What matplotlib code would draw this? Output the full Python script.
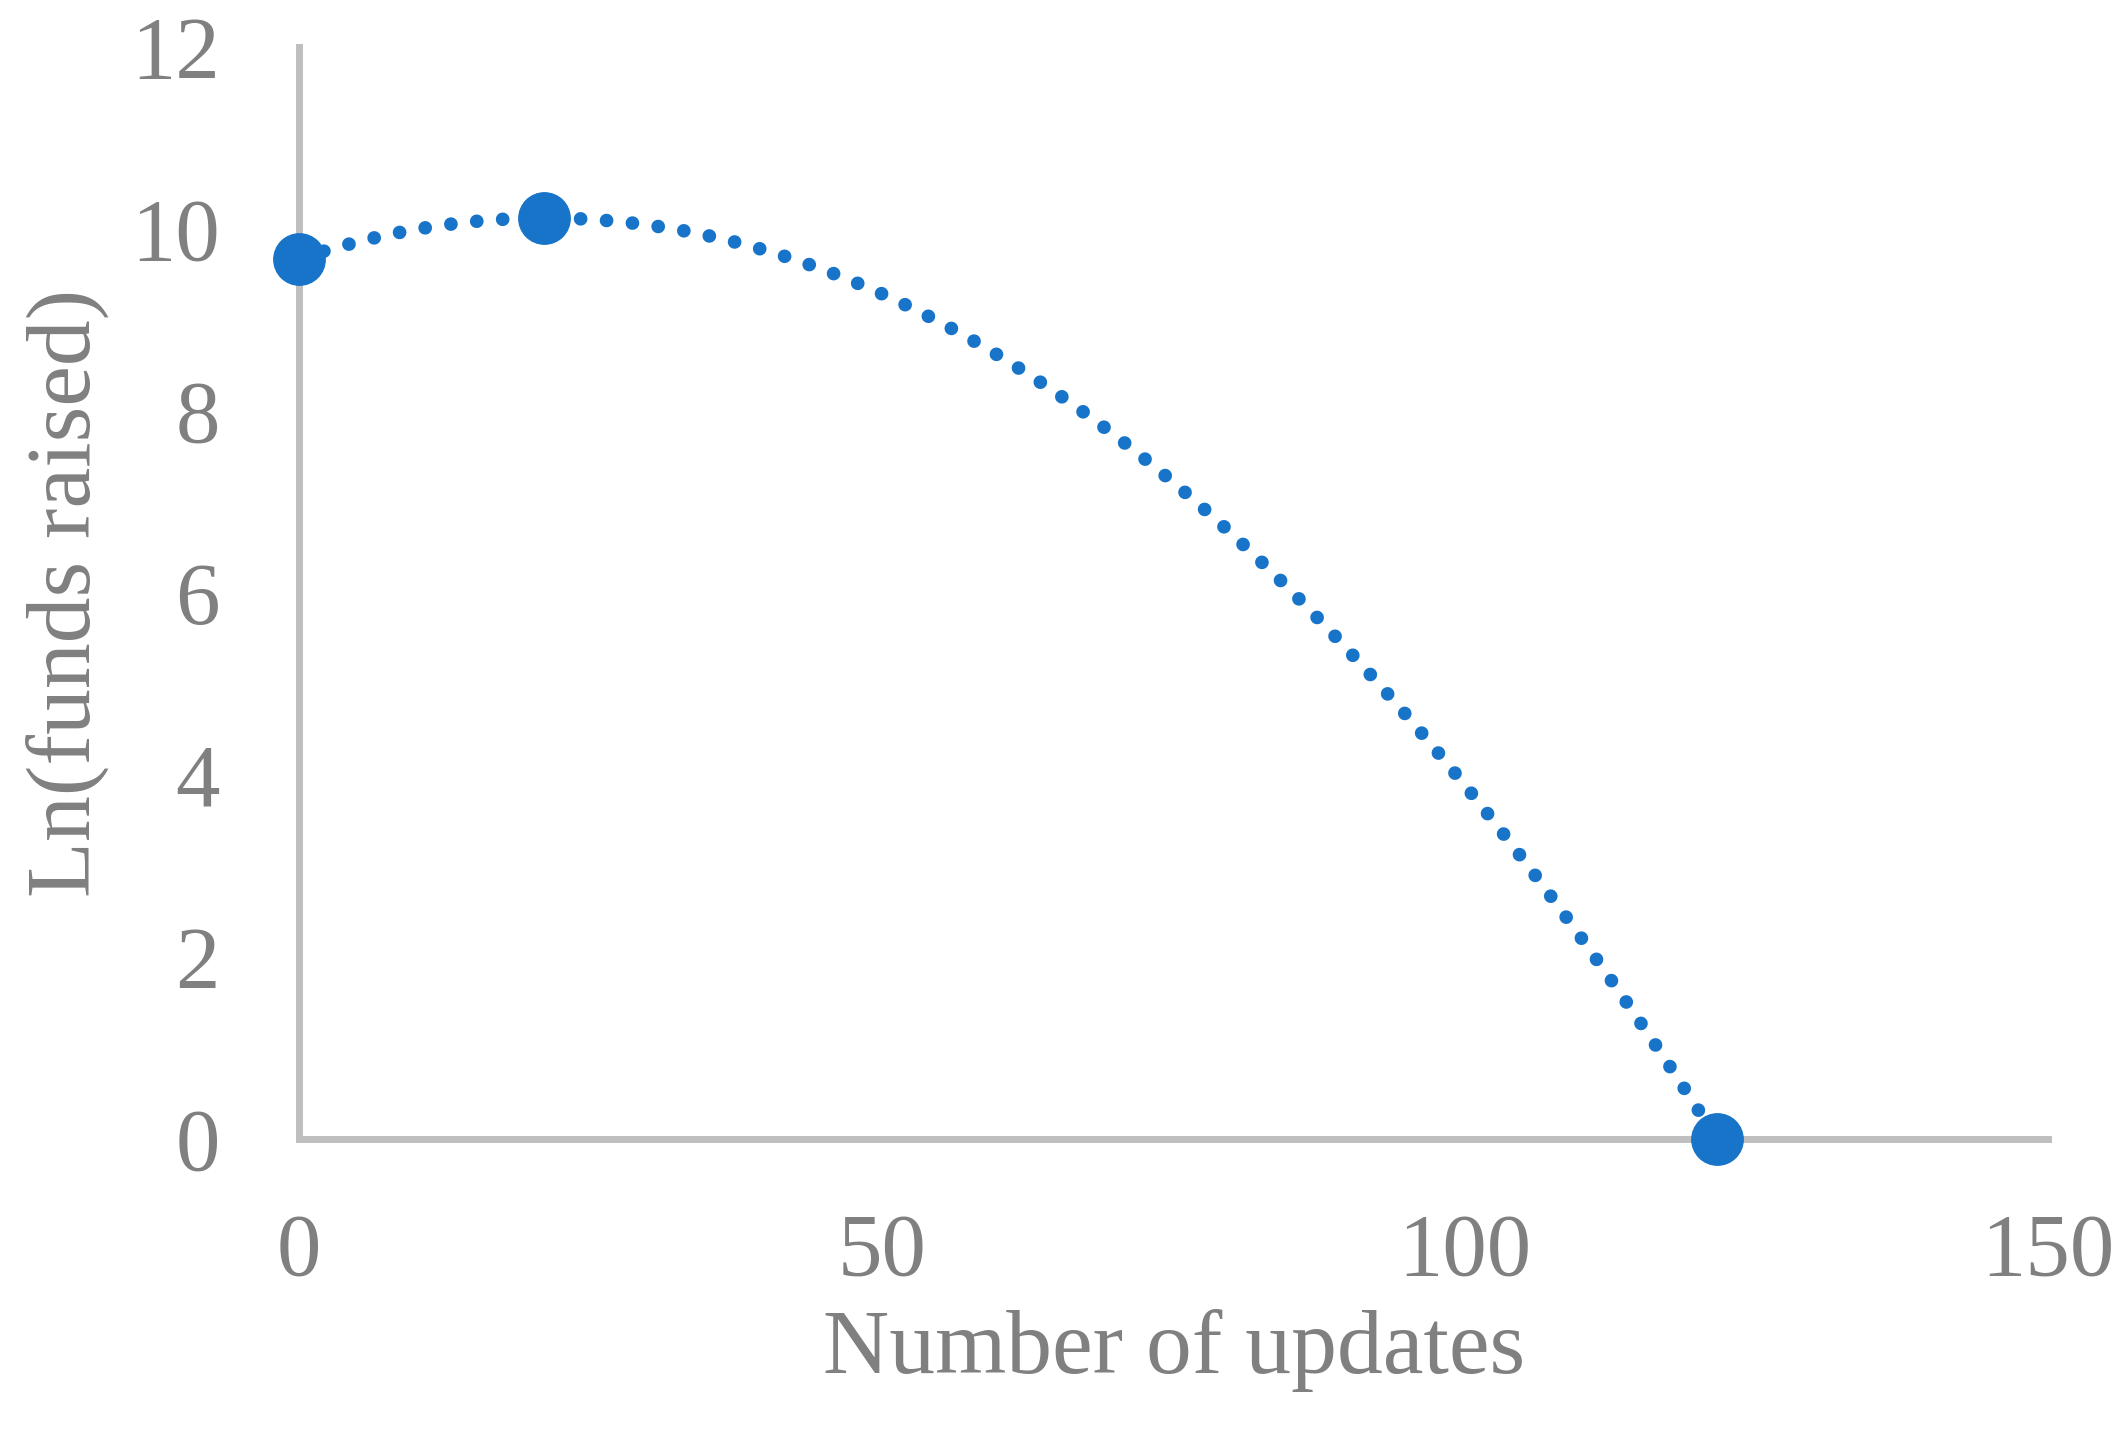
import numpy as np
import matplotlib
matplotlib.use("Agg")
import matplotlib.pyplot as plt

# data
updates = [0, 21, 121.6]
ln_funds = [9.67, 10.12, 0.0]

x_ticks = [0, 50, 100, 150]
y_ticks = [0, 2, 4, 6, 8, 10, 12]

blue = "#1874C8"
axis_grey = "#BFBFBF"
text_grey = "#808080"

plt.rcParams["font.family"] = ["Liberation Serif", "DejaVu Serif"]

fig = plt.figure(figsize=(21.27, 14.44), dpi=100)
ax = fig.add_axes([0.1406, 0.2112, 0.8223, 0.7563])

# polynomial (order 2) trendline, as in the spreadsheet
coef = np.polyfit(updates, ln_funds, 2)
xs = np.linspace(min(updates), max(updates), 400)
ax.plot(xs, np.polyval(coef, xs), color=blue, lw=9.8,
        linestyle=(0, (0.01, 1.9)), dash_capstyle="round", zorder=2)

ax.plot(updates, ln_funds, "o", color=blue, markersize=37, zorder=3, clip_on=False)

ax.set_xlim(0, 150)
ax.set_ylim(0, 12)
ax.set_xticks(x_ticks)
ax.set_yticks(y_ticks)

for side in ["top", "right"]:
    ax.spines[side].set_visible(False)
for side in ["left", "bottom"]:
    ax.spines[side].set_color(axis_grey)
    ax.spines[side].set_linewidth(5)

ax.tick_params(length=0, labelsize=64, labelcolor=text_grey)
ax.tick_params(axis="x", pad=53)
ax.tick_params(axis="y", pad=57)

ax.set_xlabel("Number of updates", fontsize=66, color=text_grey, labelpad=11)
ax.set_ylabel("Ln(funds raised)", fontsize=66, color=text_grey, labelpad=16)

fig.savefig("out.png", dpi=100)
